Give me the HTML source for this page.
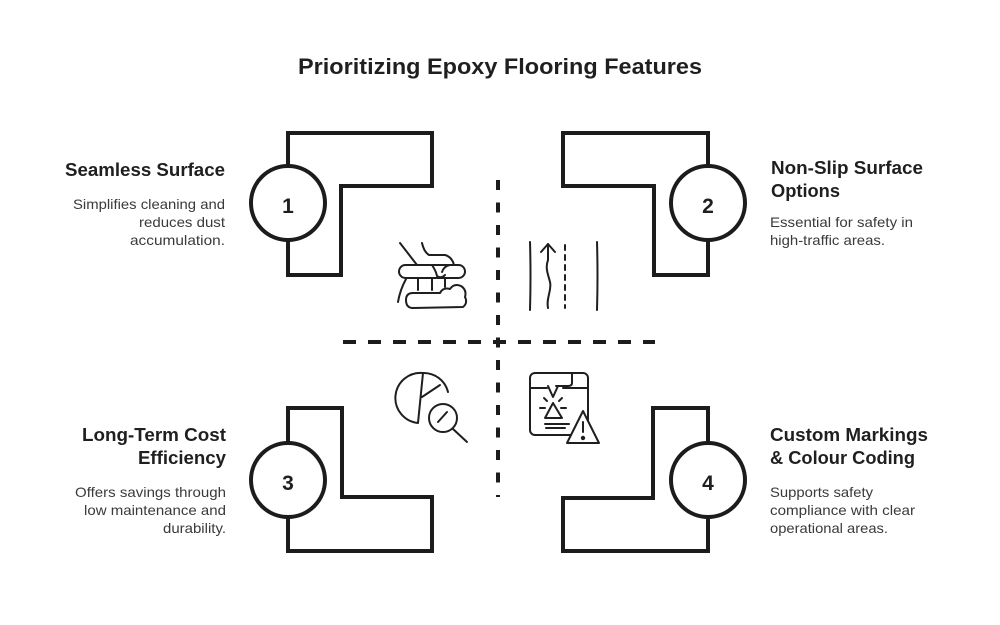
<!DOCTYPE html>
<html><head><meta charset="utf-8"><style>
html,body{margin:0;padding:0;background:#fff;}
svg{display:block;}
.h{font-family:"Liberation Sans",Arial,sans-serif;font-weight:bold;font-size:18px;fill:#1f1f1f;}
.d{font-family:"Liberation Sans",Arial,sans-serif;font-size:14px;fill:#3a3a3a;}
.n{font-family:"Liberation Sans",Arial,sans-serif;font-weight:bold;font-size:21px;fill:#1f1f1f;}
.s{fill:none;stroke:#1c1c1c;stroke-width:4;stroke-linejoin:miter;}
.i{fill:none;stroke:#1f1f1f;stroke-width:2;stroke-linecap:round;stroke-linejoin:round;}
</style></head><body>
<svg width="1000" height="625" viewBox="0 0 1000 625" xmlns="http://www.w3.org/2000/svg">
<rect width="1000" height="625" fill="#fff"/>
<text x="298" y="74" textLength="404" lengthAdjust="spacingAndGlyphs" style="font-family:'Liberation Sans',Arial,sans-serif;font-weight:bold;font-size:22px;fill:#1f1f1f">Prioritizing Epoxy Flooring Features</text>

<!-- dashed dividers -->
<path d="M498 180 V497" stroke="#1c1c1c" stroke-width="4" stroke-dasharray="10 12.5" fill="none"/>
<path d="M343 342 H655" stroke="#1c1c1c" stroke-width="4" stroke-dasharray="13 12" fill="none"/>

<!-- L shapes -->
<path class="s" d="M288 166 V133 H432 V186 H341 V275 H288 V240"/>
<circle class="s" cx="288" cy="203" r="37"/>
<text class="n" x="288" y="213" text-anchor="middle">1</text>

<path class="s" d="M708 166 V133 H563 V186 H654 V275 H708 V240"/>
<circle class="s" cx="708" cy="203" r="37"/>
<text class="n" x="708" y="213" text-anchor="middle">2</text>

<path class="s" d="M288 443 V408 H342 V497 H432 V551 H288 V517"/>
<circle class="s" cx="288" cy="480" r="37"/>
<text class="n" x="288" y="490" text-anchor="middle">3</text>

<path class="s" d="M708 443 V408 H653 V498 H563 V551 H708 V517"/>
<circle class="s" cx="708" cy="480" r="37"/>
<text class="n" x="708" y="490" text-anchor="middle">4</text>

<!-- text blocks -->
<text class="h" x="225" y="176" text-anchor="end" textLength="160" lengthAdjust="spacingAndGlyphs">Seamless Surface</text>
<text class="d" x="225" y="209" text-anchor="end" textLength="152" lengthAdjust="spacingAndGlyphs">Simplifies cleaning and</text>
<text class="d" x="225" y="227" text-anchor="end" textLength="86" lengthAdjust="spacingAndGlyphs">reduces dust</text>
<text class="d" x="225" y="245" text-anchor="end" textLength="95" lengthAdjust="spacingAndGlyphs">accumulation.</text>

<text class="h" x="771" y="174" textLength="152" lengthAdjust="spacingAndGlyphs">Non-Slip Surface</text>
<text class="h" x="771" y="197" textLength="69" lengthAdjust="spacingAndGlyphs">Options</text>
<text class="d" x="770" y="227" textLength="143" lengthAdjust="spacingAndGlyphs">Essential for safety in</text>
<text class="d" x="770" y="245" textLength="115" lengthAdjust="spacingAndGlyphs">high-traffic areas.</text>

<text class="h" x="226" y="441" text-anchor="end" textLength="144" lengthAdjust="spacingAndGlyphs">Long-Term Cost</text>
<text class="h" x="226" y="464" text-anchor="end" textLength="88" lengthAdjust="spacingAndGlyphs">Efficiency</text>
<text class="d" x="226" y="497" text-anchor="end" textLength="151" lengthAdjust="spacingAndGlyphs">Offers savings through</text>
<text class="d" x="226" y="515" text-anchor="end" textLength="142" lengthAdjust="spacingAndGlyphs">low maintenance and</text>
<text class="d" x="226" y="533" text-anchor="end" textLength="63" lengthAdjust="spacingAndGlyphs">durability.</text>

<text class="h" x="770" y="441" textLength="158" lengthAdjust="spacingAndGlyphs">Custom Markings</text>
<text class="h" x="770" y="464" textLength="145" lengthAdjust="spacingAndGlyphs">&amp; Colour Coding</text>
<text class="d" x="770" y="497" textLength="103" lengthAdjust="spacingAndGlyphs">Supports safety</text>
<text class="d" x="770" y="515" textLength="145" lengthAdjust="spacingAndGlyphs">compliance with clear</text>
<text class="d" x="770" y="533" textLength="118" lengthAdjust="spacingAndGlyphs">operational areas.</text>

<!-- cleaning icon -->
<g class="i">
<path d="M400 243 L417 265"/>
<path d="M422 243 Q424 252 429 255 L445 255 Q452 257 454 265"/>
<rect x="399" y="265" width="66" height="13" rx="6.5"/>
<path d="M432 265 Q436 271 437 276 Q441 279 445 275"/>
<path d="M442 272 Q444 266 450 265"/>
<path d="M418 278 V290 M432 278 V290 M445 278 V287"/>
<path d="M406 279 Q400 290 398 302"/>
<path d="M413 293 L440 293 Q443 287 450 289 Q454 283 461 286 Q467 290 465 297 Q468 303 463 307 L413 308 Q406 308 406 300 Q406 293 413 293 Z"/>
</g>

<!-- road icon -->
<g class="i">
<path d="M530 242 Q531 276 530 310"/>
<path d="M597 242 Q598 276 597 310"/>
<path d="M565 245 V308" stroke-dasharray="5 5"/>
<path d="M548 308 C546 298 552 290 550 282 C548 274 545 268 548 260 L548 244"/>
<path d="M541 252 L548 244 L555 252"/>
</g>

<!-- pie + magnifier icon -->
<g class="i">
<path d="M418 423 A25 25 0 0 1 423 373 L418 423"/>
<path d="M422 397 L440 385"/>
<path d="M423 373 A25 25 0 0 1 448 392"/>
<circle cx="443" cy="418" r="14" fill="#fff"/>
<path d="M453 429 L467 442"/>
<path d="M438 422 L447 412"/>
</g>

<!-- printer warning icon -->
<g class="i">
<rect x="530" y="373" width="58" height="62" rx="5"/>
<path d="M572 373 V383 Q572 386 568 386 L556 386"/>
<path d="M531 388 H547 M563 388 H588"/>
<path d="M548 386 L553 397 L558 386"/>
<path d="M544 398 L547 401 M562 398 L559 401 M540 408 H545 M561 408 H566"/>
<path d="M553 403 L545 418 L562 418 Z"/>
<path d="M545 424 H569 M546 428 H565"/>
<path d="M583 411 L567 443 L599 443 Z" fill="#fff"/>
<path d="M583 422 V432"/>
<circle cx="583" cy="438" r="1.2" fill="#1f1f1f"/>
</g>
</svg>
</body></html>
